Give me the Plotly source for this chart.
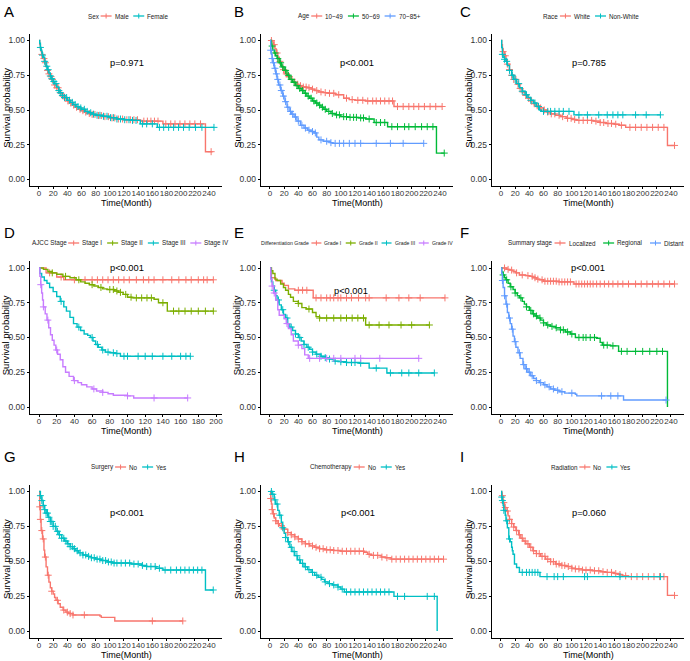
import numpy as np
import plotly.graph_objects as go

W, H = 690, 661
FONT = "Liberation Sans, Arial, sans-serif"

RED = "#F8766D"
CYAN = "#00BFC4"
GREEN = "#00BA38"
BLUE = "#619CFF"
OLIVE = "#7CAE00"
PURPLE = "#C77CFF"

# ---------------- data ----------------
# A: Sex
male_t = [0, 1, 2, 3, 4, 5, 6, 8, 10, 12, 14, 16, 18, 20, 22, 25, 28, 30, 33, 36, 40, 44, 48, 52, 56, 60, 65, 70, 75, 80, 90, 100, 110, 120, 140, 145, 175, 235, 245]
male_s = [1.0, 0.97, 0.94, 0.92, 0.90, 0.885, 0.87, 0.84, 0.81, 0.785, 0.76, 0.74, 0.72, 0.70, 0.68, 0.66, 0.635, 0.62, 0.60, 0.585, 0.565, 0.55, 0.535, 0.52, 0.505, 0.495, 0.485, 0.475, 0.468, 0.46, 0.452, 0.443, 0.435, 0.43, 0.425, 0.42, 0.40, 0.20, 0.20]
male_c = [4, 7, 9, 12, 14, 17, 19, 22, 25, 27, 31, 34, 37, 41, 45, 49, 53, 58, 62, 66, 71, 75, 79, 84, 88, 93, 98, 103, 107, 112, 118, 124, 129, 134, 139, 148, 153, 158, 163, 168, 179, 186, 192, 199, 206, 213, 220, 228, 243]
female_t = [0, 1, 2, 3, 4, 5, 6, 8, 10, 12, 14, 16, 18, 20, 22, 25, 28, 30, 33, 36, 40, 44, 48, 52, 56, 60, 65, 70, 75, 80, 90, 100, 110, 120, 132, 143, 167, 247]
female_s = [1.0, 0.98, 0.95, 0.93, 0.91, 0.895, 0.88, 0.85, 0.815, 0.79, 0.765, 0.745, 0.725, 0.705, 0.69, 0.665, 0.64, 0.625, 0.605, 0.59, 0.57, 0.555, 0.54, 0.525, 0.515, 0.505, 0.49, 0.48, 0.47, 0.462, 0.455, 0.445, 0.435, 0.43, 0.425, 0.40, 0.375, 0.375]
female_c = [2, 5, 8, 11, 13, 16, 18, 21, 24, 28, 30, 33, 36, 39, 43, 47, 51, 55, 59, 64, 68, 73, 77, 82, 86, 91, 96, 101, 105, 110, 115, 121, 127, 132, 137, 146, 152, 160, 170, 176, 183, 190, 197, 204, 212, 221, 230, 247]

# B: Age
age1_t = [0, 3, 5, 7, 9, 11, 13, 15, 18, 21, 24, 28, 32, 36, 40, 45, 52, 58, 63, 68, 75, 82, 92, 104, 112, 120, 135, 175, 243]
age1_s = [1.0, 0.99, 0.97, 0.94, 0.91, 0.88, 0.85, 0.82, 0.79, 0.76, 0.74, 0.72, 0.70, 0.685, 0.675, 0.665, 0.66, 0.65, 0.64, 0.63, 0.625, 0.62, 0.61, 0.585, 0.575, 0.57, 0.565, 0.525, 0.525]
age1_c = [2, 6, 10, 14, 19, 23, 27, 31, 35, 39, 43, 47, 51, 55, 60, 66, 72, 78, 84, 90, 97, 108, 116, 124, 131, 138, 145, 150, 156, 162, 168, 173, 180, 188, 196, 203, 210, 218, 226, 234, 243]
age2_t = [0, 2, 4, 6, 8, 10, 13, 16, 20, 24, 28, 32, 36, 40, 44, 48, 52, 56, 60, 64, 68, 72, 76, 80, 86, 92, 100, 110, 125, 135, 147, 166, 235, 246]
age2_s = [1.0, 0.96, 0.93, 0.91, 0.89, 0.87, 0.84, 0.81, 0.785, 0.75, 0.72, 0.70, 0.675, 0.655, 0.64, 0.62, 0.60, 0.585, 0.565, 0.55, 0.535, 0.52, 0.505, 0.49, 0.475, 0.465, 0.452, 0.447, 0.443, 0.435, 0.41, 0.38, 0.19, 0.19]
age2_c = [3, 7, 11, 15, 18, 22, 26, 30, 34, 38, 42, 46, 50, 54, 58, 62, 66, 70, 74, 78, 83, 88, 94, 98, 104, 108, 113, 118, 122, 128, 132, 140, 150, 156, 162, 172, 180, 190, 196, 205, 214, 222, 230, 246]
age3_t = [0, 1, 2, 3, 4, 6, 8, 10, 12, 15, 18, 21, 24, 27, 30, 34, 38, 43, 48, 53, 58, 62, 66, 69, 75, 85, 88, 217]
age3_s = [1.0, 0.93, 0.90, 0.87, 0.84, 0.80, 0.76, 0.72, 0.68, 0.64, 0.60, 0.56, 0.52, 0.49, 0.47, 0.45, 0.42, 0.39, 0.37, 0.355, 0.345, 0.335, 0.305, 0.285, 0.275, 0.265, 0.26, 0.26]
age3_c = [1, 3, 5, 7, 9, 11, 14, 16, 19, 22, 25, 29, 32, 36, 40, 45, 50, 55, 60, 64, 72, 80, 86, 92, 98, 104, 112, 120, 128, 150, 170, 188, 217]

# C: Race
white_t = [0, 1, 2, 3, 5, 7, 9, 12, 15, 18, 22, 26, 30, 34, 38, 42, 46, 50, 55, 60, 65, 70, 77, 84, 92, 100, 106, 130, 140, 148, 160, 167, 176, 235, 245]
white_s = [1.0, 0.97, 0.94, 0.92, 0.89, 0.86, 0.83, 0.79, 0.75, 0.72, 0.685, 0.655, 0.63, 0.605, 0.585, 0.565, 0.545, 0.53, 0.515, 0.50, 0.485, 0.472, 0.462, 0.452, 0.44, 0.432, 0.425, 0.42, 0.41, 0.403, 0.398, 0.39, 0.375, 0.245, 0.245]
white_c = [3, 6, 9, 12, 15, 18, 21, 24, 27, 31, 35, 39, 43, 47, 51, 56, 61, 66, 71, 76, 82, 87, 94, 99, 104, 110, 116, 122, 128, 134, 140, 145, 151, 156, 162, 170, 182, 190, 198, 206, 214, 222, 230, 245]
nonwhite_t = [0, 1, 2, 3, 5, 7, 9, 12, 15, 18, 22, 26, 30, 34, 38, 42, 46, 50, 54, 57, 103, 225]
nonwhite_s = [1.0, 0.95, 0.90, 0.88, 0.865, 0.85, 0.82, 0.785, 0.75, 0.72, 0.69, 0.66, 0.635, 0.61, 0.59, 0.57, 0.55, 0.525, 0.50, 0.49, 0.465, 0.465]
nonwhite_c = [2, 5, 8, 12, 16, 20, 25, 30, 36, 42, 48, 53, 60, 66, 70, 76, 82, 88, 96, 110, 122, 138, 150, 158, 165, 172, 190, 205, 225]

# D: AJCC Stage
st1_t = [0, 8, 20, 28, 197]
st1_s = [1.0, 0.965, 0.935, 0.915, 0.915]
st1_c = [12, 25, 40, 52, 60, 66, 72, 78, 84, 90, 96, 102, 110, 118, 124, 130, 140, 150, 158, 166, 172, 180, 186, 190, 197]
st2_t = [0, 5, 10, 15, 20, 27, 35, 42, 47, 52, 57, 62, 67, 72, 77, 85, 90, 95, 100, 105, 130, 135, 145, 197]
st2_s = [1.0, 0.99, 0.975, 0.965, 0.955, 0.94, 0.93, 0.915, 0.90, 0.89, 0.88, 0.87, 0.86, 0.85, 0.845, 0.835, 0.825, 0.81, 0.79, 0.785, 0.775, 0.75, 0.69, 0.69]
st2_c = [15, 30, 45, 60, 70, 80, 84, 88, 92, 98, 104, 110, 116, 122, 127, 140, 152, 158, 165, 172, 180, 188, 197]
st3_t = [0, 1, 3, 6, 9, 12, 16, 20, 24, 28, 31, 35, 39, 43, 47, 51, 55, 58, 61, 64, 67, 71, 75, 80, 86, 92, 171]
st3_s = [1.0, 0.96, 0.935, 0.91, 0.89, 0.86, 0.83, 0.795, 0.76, 0.72, 0.69, 0.645, 0.60, 0.575, 0.55, 0.525, 0.515, 0.50, 0.475, 0.45, 0.43, 0.41, 0.395, 0.39, 0.385, 0.365, 0.365]
st3_c = [25, 45, 60, 66, 72, 78, 84, 88, 96, 100, 112, 120, 128, 140, 150, 160, 166, 171]
st4_t = [0, 1, 2, 3, 4, 5, 7, 9, 11, 13, 15, 17, 19, 21, 24, 27, 30, 34, 39, 44, 48, 54, 60, 65, 72, 78, 84, 100, 107, 168]
st4_s = [1.0, 0.94, 0.88, 0.82, 0.77, 0.72, 0.67, 0.625, 0.57, 0.52, 0.48, 0.445, 0.41, 0.38, 0.34, 0.29, 0.25, 0.22, 0.19, 0.175, 0.16, 0.145, 0.13, 0.115, 0.105, 0.095, 0.085, 0.08, 0.065, 0.065]
st4_c = [2, 5, 10, 20, 40, 62, 72, 100, 130, 168]

# E: Differentiation Grade
gr1_t = [0, 2, 8, 17, 20, 26, 35, 61, 247]
gr1_s = [1.0, 0.93, 0.91, 0.89, 0.875, 0.85, 0.84, 0.785, 0.785]
gr1_c = [40, 46, 52, 65, 72, 80, 85, 90, 96, 100, 108, 115, 125, 135, 140, 164, 182, 196, 212, 247]
gr2_t = [0, 2, 4, 7, 10, 15, 19, 22, 26, 29, 33, 40, 45, 51, 60, 65, 70, 135, 225]
gr2_s = [1.0, 0.98, 0.96, 0.92, 0.91, 0.885, 0.86, 0.84, 0.81, 0.79, 0.76, 0.745, 0.715, 0.705, 0.68, 0.65, 0.64, 0.59, 0.59]
gr2_c = [40, 55, 70, 80, 90, 100, 108, 116, 124, 132, 140, 154, 168, 185, 200, 225]
gr3_t = [0, 1, 2, 4, 6, 8, 10, 13, 16, 19, 22, 25, 28, 32, 36, 40, 44, 48, 52, 56, 60, 65, 72, 78, 84, 90, 100, 108, 126, 140, 165, 232]
gr3_s = [1.0, 0.93, 0.90, 0.87, 0.84, 0.80, 0.77, 0.735, 0.70, 0.665, 0.64, 0.60, 0.575, 0.55, 0.525, 0.50, 0.475, 0.45, 0.43, 0.415, 0.395, 0.38, 0.365, 0.355, 0.345, 0.33, 0.325, 0.32, 0.315, 0.28, 0.245, 0.245]
gr3_c = [6, 12, 18, 24, 30, 36, 42, 48, 54, 60, 66, 72, 78, 84, 92, 100, 108, 115, 120, 128, 150, 170, 186, 196, 210, 232]
gr4_t = [0, 1, 3, 5, 8, 11, 13, 20, 23, 26, 30, 33, 40, 45, 49, 54, 210]
gr4_s = [1.0, 0.92, 0.87, 0.82, 0.77, 0.70, 0.66, 0.635, 0.60, 0.565, 0.52, 0.475, 0.445, 0.42, 0.375, 0.35, 0.35]
gr4_c = [3, 6, 24, 40, 56, 70, 80, 90, 100, 120, 128, 155, 210]

# F: Summary stage
loc_t = [0, 8, 12, 17, 21, 26, 35, 40, 45, 50, 54, 60, 82, 103, 245]
loc_s = [1.0, 0.99, 0.985, 0.975, 0.965, 0.95, 0.945, 0.94, 0.93, 0.92, 0.915, 0.905, 0.90, 0.885, 0.885]
loc_c = [5, 10, 15, 22, 30, 38, 44, 48, 52, 58, 62, 66, 70, 74, 78, 82, 86, 90, 94, 98, 106, 110, 114, 118, 122, 126, 130, 135, 140, 146, 152, 158, 165, 172, 180, 190, 198, 206, 214, 222, 230, 238, 245]
reg_t = [0, 1, 3, 5, 7, 10, 13, 17, 20, 23, 26, 30, 33, 36, 40, 44, 48, 52, 56, 60, 64, 70, 77, 84, 91, 98, 105, 135, 140, 143, 155, 166, 235]
reg_s = [1.0, 0.97, 0.95, 0.93, 0.915, 0.89, 0.865, 0.845, 0.82, 0.80, 0.785, 0.76, 0.74, 0.72, 0.695, 0.67, 0.655, 0.64, 0.625, 0.605, 0.59, 0.58, 0.57, 0.555, 0.54, 0.525, 0.50, 0.495, 0.465, 0.445, 0.44, 0.40, 0.0]
reg_c = [3, 8, 14, 20, 28, 36, 42, 46, 50, 55, 60, 66, 72, 78, 84, 88, 94, 100, 110, 116, 120, 126, 132, 145, 150, 158, 170, 178, 190, 200, 210, 220, 228]
dist_t = [0, 1, 2, 3, 5, 7, 9, 11, 13, 15, 17, 19, 21, 24, 27, 31, 34, 38, 42, 46, 50, 54, 60, 65, 70, 76, 82, 90, 105, 107, 173, 234]
dist_s = [1.0, 0.96, 0.91, 0.86, 0.80, 0.74, 0.68, 0.64, 0.60, 0.56, 0.51, 0.47, 0.43, 0.39, 0.35, 0.305, 0.275, 0.25, 0.225, 0.205, 0.19, 0.175, 0.16, 0.145, 0.13, 0.12, 0.11, 0.10, 0.092, 0.08, 0.05, 0.05]
dist_c = [2, 5, 8, 12, 16, 20, 26, 32, 36, 40, 44, 50, 56, 62, 68, 74, 80, 86, 100, 142, 155, 165, 233]

# G: Surgery
surgno_t = [0, 1, 2, 3, 5, 7, 8, 10, 12, 14, 16, 18, 20, 22, 24, 27, 30, 34, 38, 42, 48, 86, 88, 107, 203]
surgno_s = [1.0, 0.89, 0.80, 0.72, 0.66, 0.58, 0.53, 0.46, 0.40, 0.35, 0.31, 0.285, 0.265, 0.24, 0.22, 0.195, 0.17, 0.15, 0.135, 0.125, 0.115, 0.108, 0.098, 0.072, 0.072]
surgno_c = [1, 2, 4, 6, 9, 13, 18, 26, 35, 40, 44, 48, 64, 160, 203]
surgyes_t = [0, 2, 4, 6, 8, 10, 13, 16, 20, 24, 28, 32, 36, 40, 44, 48, 52, 56, 62, 68, 74, 80, 88, 96, 104, 130, 145, 152, 165, 175, 235, 246]
surgyes_s = [1.0, 0.97, 0.935, 0.90, 0.87, 0.845, 0.815, 0.785, 0.75, 0.715, 0.69, 0.665, 0.645, 0.625, 0.605, 0.59, 0.575, 0.56, 0.545, 0.535, 0.525, 0.515, 0.505, 0.495, 0.487, 0.48, 0.47, 0.462, 0.45, 0.437, 0.294, 0.294]
surgyes_c = [2, 4, 6, 8, 10, 12, 14, 16, 18, 20, 23, 26, 29, 32, 35, 38, 41, 44, 47, 50, 54, 58, 62, 66, 70, 74, 78, 82, 86, 90, 94, 98, 102, 106, 110, 116, 122, 128, 134, 140, 146, 152, 158, 164, 170, 178, 186, 194, 200, 206, 212, 218, 224, 230, 246]

# H: Chemotherapy
chemono_t = [0, 1, 2, 3, 4, 6, 8, 10, 13, 17, 20, 25, 30, 35, 40, 45, 50, 56, 63, 70, 77, 90, 100, 133, 138, 143, 157, 163, 171, 245]
chemono_s = [1.0, 0.95, 0.91, 0.87, 0.84, 0.81, 0.79, 0.77, 0.755, 0.74, 0.73, 0.705, 0.69, 0.675, 0.66, 0.64, 0.625, 0.61, 0.60, 0.59, 0.582, 0.577, 0.572, 0.565, 0.55, 0.542, 0.53, 0.525, 0.515, 0.515]
chemono_c = [1, 3, 5, 8, 12, 16, 20, 25, 30, 35, 40, 45, 50, 55, 60, 65, 70, 75, 80, 85, 90, 96, 102, 108, 114, 120, 126, 132, 140, 146, 152, 158, 165, 172, 178, 184, 190, 196, 202, 208, 214, 220, 226, 232, 238, 245]
chemoyes_t = [0, 3, 6, 8, 11, 13, 16, 18, 20, 22, 25, 28, 31, 35, 39, 43, 48, 53, 58, 63, 68, 73, 77, 82, 88, 96, 100, 105, 175, 236]
chemoyes_s = [1.0, 0.98, 0.94, 0.91, 0.865, 0.83, 0.78, 0.74, 0.70, 0.67, 0.64, 0.60, 0.57, 0.54, 0.51, 0.485, 0.46, 0.44, 0.42, 0.40, 0.385, 0.37, 0.352, 0.34, 0.33, 0.315, 0.30, 0.28, 0.248, 0.0]
chemoyes_c = [2, 4, 7, 10, 14, 18, 22, 26, 30, 34, 38, 42, 46, 50, 55, 60, 66, 72, 78, 84, 90, 96, 102, 108, 114, 120, 126, 132, 138, 144, 150, 156, 162, 168, 180, 190, 222, 232]

# I: Radiation
radno_t = [0, 1, 3, 5, 7, 10, 12, 15, 18, 21, 25, 28, 31, 35, 40, 45, 50, 56, 63, 70, 77, 85, 92, 100, 105, 115, 129, 140, 148, 160, 166, 171, 180, 235, 245]
radno_s = [1.0, 0.97, 0.92, 0.885, 0.86, 0.825, 0.80, 0.77, 0.745, 0.72, 0.69, 0.665, 0.645, 0.625, 0.60, 0.575, 0.555, 0.535, 0.515, 0.497, 0.48, 0.47, 0.462, 0.45, 0.445, 0.437, 0.432, 0.425, 0.42, 0.412, 0.405, 0.395, 0.39, 0.255, 0.255]
radno_c = [2, 4, 6, 9, 12, 15, 18, 22, 26, 30, 34, 38, 42, 46, 50, 54, 58, 62, 66, 70, 74, 78, 82, 86, 90, 95, 100, 105, 110, 115, 120, 126, 132, 138, 144, 150, 156, 162, 168, 176, 184, 192, 200, 208, 216, 224, 230, 245]
radyes_t = [0, 1, 2, 3, 4, 6, 7, 9, 11, 13, 15, 16, 17, 19, 22, 26, 55, 225]
radyes_s = [1.0, 0.96, 0.935, 0.90, 0.865, 0.83, 0.79, 0.74, 0.66, 0.64, 0.60, 0.575, 0.55, 0.48, 0.455, 0.42, 0.39, 0.39]
radyes_c = [1, 2, 4, 8, 12, 30, 36, 40, 44, 48, 52, 65, 75, 80, 88, 118, 122, 168, 225]

panels = [
    dict(letter="A", title="Sex", pval="p=0.971", pxy=(124, 0.84), lc=127,
         groups=[("Male", RED, male_t, male_s, male_c), ("Female", CYAN, female_t, female_s, female_c)]),
    dict(letter="B", title="Age", pval="p<0.001", pxy=(123, 0.84), lc=358,
         groups=[("10~49", RED, age1_t, age1_s, age1_c), ("50~69", GREEN, age2_t, age2_s, age2_c),
                 ("70~85+", BLUE, age3_t, age3_s, age3_c)]),
    dict(letter="C", title="Race", pval="p=0.785", pxy=(124, 0.84), lc=590,
         groups=[("White", RED, white_t, white_s, white_c), ("Non-White", CYAN, nonwhite_t, nonwhite_s, nonwhite_c)]),
    dict(letter="D", title="AJCC Stage", pval="p<0.001", pxy=(99, 1.0), lc=129, xmax=200,
         groups=[("Stage I", RED, st1_t, st1_s, st1_c), ("Stage II", OLIVE, st2_t, st2_s, st2_c),
                 ("Stage III", CYAN, st3_t, st3_s, st3_c), ("Stage IV", PURPLE, st4_t, st4_s, st4_c)]),
    dict(letter="E", title="Differentiation Grade", pval="p<0.001", pxy=(115, 0.835), lc=356, lfs=5.2, key=10, gap=5,
         groups=[("Grade I", RED, gr1_t, gr1_s, gr1_c), ("Grade II", OLIVE, gr2_t, gr2_s, gr2_c),
                 ("Grade III", CYAN, gr3_t, gr3_s, gr3_c), ("Grade IV", PURPLE, gr4_t, gr4_s, gr4_c)]),
    dict(letter="F", title="Summary stage", pval="p<0.001", pxy=(123, 1.0), lc=595, gap=9,
         groups=[("Localized", RED, loc_t, loc_s, loc_c), ("Regional", GREEN, reg_t, reg_s, reg_c),
                 ("Distant", BLUE, dist_t, dist_s, dist_c)]),
    dict(letter="G", title="Surgery", pval="p<0.001", pxy=(124, 0.846), lc=128,
         groups=[("No", RED, surgno_t, surgno_s, surgno_c), ("Yes", CYAN, surgyes_t, surgyes_s, surgyes_c)]),
    dict(letter="H", title="Chemotherapy", pval="p<0.001", pxy=(124, 0.846), lc=357,
         groups=[("No", RED, chemono_t, chemono_s, chemono_c), ("Yes", CYAN, chemoyes_t, chemoyes_s, chemoyes_c)]),
    dict(letter="I", title="Radiation", pval="p=0.060", pxy=(124, 0.846), lc=590,
         groups=[("No", RED, radno_t, radno_s, radno_c), ("Yes", CYAN, radyes_t, radyes_s, radyes_c)]),
]

# ---------------- layout geometry (pixels) ----------------
col_zero = [39, 270, 501]                          # pixel of t=0 in each column
row_y = [(40.5, 179.5), (268, 407), (491.5, 631)]  # pixel of 1.00 and 0.00
legend_y = [16, 243, 467]
letter_y = [1, 222, 446]
letter_x = [2, 232, 458]


def px(p):
    return p / W


def py(p):
    return 1 - p / H


CHAR_W = {"i": 222, "l": 222, "j": 222, "I": 278, " ": 278, "t": 278, "f": 278, "r": 333,
          "-": 333, "~": 584, "+": 584, "m": 833, "w": 722, "c": 500, "k": 500, "s": 500,
          "v": 500, "x": 500, "y": 500, "z": 500, "A": 667, "C": 722, "D": 722, "G": 778,
          "J": 500, "N": 722, "R": 722, "S": 667, "W": 944, "Y": 667, "M": 833, "L": 556,
          "F": 611, "T": 611, "V": 667, "E": 667, "H": 722}


def text_w(s, fs):
    return sum(CHAR_W.get(ch, 556) for ch in s) * fs / 1000.0


def step_at(times, surv, t):
    idx = np.searchsorted(np.asarray(times), t, side="right") - 1
    return np.asarray(surv)[np.clip(idx, 0, len(surv) - 1)]


fig = go.Figure()
shapes = []
annotations = []

for i, p in enumerate(panels):
    r, c = divmod(i, 3)
    n = i + 1
    xa = "x" if n == 1 else f"x{n}"
    ya = "y" if n == 1 else f"y{n}"
    xmax = p.get("xmax", 240)
    if xmax == 240:
        scale = 170 / 240
        xr = [-12.3, 258.3]
    else:
        scale = 177 / 200
        xr = [-9.85, 206.85]
    z = col_zero[c]
    left, right = z + xr[0] * scale, z + xr[1] * scale
    y1, y0 = row_y[r]
    ys = (y0 - y1)
    top, bottom = y1 - 0.05 * ys, y0 + 0.05 * ys

    fig.layout[f"xaxis{'' if n == 1 else n}"] = dict(
        domain=[px(left), px(right)], range=xr, anchor=ya, tickmode="linear", tick0=0, dtick=20,
        showline=True, linecolor="black", linewidth=1, ticks="outside", ticklen=2, tickcolor="black",
        ticklabelstandoff=-3, showgrid=False, zeroline=False, tickangle=0, fixedrange=True,
        tickfont=dict(family=FONT, size=8, color="#333333"))
    fig.layout[f"yaxis{'' if n == 1 else n}"] = dict(
        domain=[py(bottom), py(top)], range=[-0.05, 1.05], anchor=xa, tickmode="array",
        tickvals=[0, 0.25, 0.5, 0.75, 1.0], ticktext=["0.00", "0.25", "0.50", "0.75", "1.00"],
        showline=True, linecolor="black", linewidth=1, ticks="outside", ticklen=2.5, tickcolor="black",
        showgrid=False, zeroline=False, fixedrange=True,
        tickfont=dict(family=FONT, size=8.5, color="#333333"))

    for name, col, t, s, cens in p["groups"]:
        fig.add_trace(go.Scatter(x=t, y=s, mode="lines", line=dict(color=col, width=1.4, shape="hv"),
                                 xaxis=xa, yaxis=ya, showlegend=False, hoverinfo="skip"))
        fig.add_trace(go.Scatter(x=cens, y=step_at(t, s, cens), mode="markers",
                                 marker=dict(symbol="cross-thin", size=5, line=dict(color=col, width=1)),
                                 xaxis=xa, yaxis=ya, showlegend=False, hoverinfo="skip"))

    # p-value
    annotations.append(dict(x=p["pxy"][0], y=p["pxy"][1], xref=xa, yref=ya, text=p["pval"],
                            showarrow=False, font=dict(family=FONT, size=9.3, color="black")))
    # panel letter
    annotations.append(dict(x=px(letter_x[c]), y=py(letter_y[r]), xref="paper", yref="paper",
                            text=p["letter"], showarrow=False, xanchor="left", yanchor="top",
                            font=dict(family=FONT, size=15, color="black")))
    # axis titles
    annotations.append(dict(x=px((left + right) / 2), y=py(bottom + 17), xref="paper", yref="paper",
                            text="Time(Month)", showarrow=False, xanchor="center", yanchor="middle",
                            borderpad=0, font=dict(family=FONT, size=9, color="black")))
    annotations.append(dict(x=px(left - 24.5), y=py((top + bottom) / 2 - 2), xref="paper", yref="paper",
                            text="Survival probability", showarrow=False, textangle=-90,
                            xanchor="center", yanchor="middle", borderpad=0,
                            font=dict(family=FONT, size=9.5, color="black")))

    # legend (drawn by hand so the keys stay as short as in the reference)
    lfs = p.get("lfs", 6.3)
    key = p.get("key", 11)
    gap = p.get("gap", 6)
    labels = [g[0] for g in p["groups"]]
    total = text_w(p["title"], lfs) + 3 + sum(key + 2 + text_w(lb, lfs) for lb in labels) + gap * (len(labels) - 1)
    xcur = p["lc"] - total / 2
    ly = legend_y[r]
    annotations.append(dict(x=px(xcur), y=py(ly), xref="paper", yref="paper", text=p["title"],
                            showarrow=False, xanchor="left", yanchor="middle", borderpad=0,
                            font=dict(family=FONT, size=lfs, color="#222222")))
    xcur += text_w(p["title"], lfs) + 3
    for name, col, *_ in p["groups"]:
        shapes.append(dict(type="line", xref="paper", yref="paper", x0=px(xcur), x1=px(xcur + key),
                           y0=py(ly), y1=py(ly), line=dict(color=col, width=1.3)))
        shapes.append(dict(type="line", xref="paper", yref="paper", x0=px(xcur + key / 2), x1=px(xcur + key / 2),
                           y0=py(ly - 2.5), y1=py(ly + 2.5), line=dict(color=col, width=1)))
        xcur += key + 2
        annotations.append(dict(x=px(xcur), y=py(ly), xref="paper", yref="paper", text=name,
                                showarrow=False, xanchor="left", yanchor="middle", borderpad=0,
                                font=dict(family=FONT, size=lfs, color="#222222")))
        xcur += text_w(name, lfs) + gap

fig.update_layout(width=W, height=H, margin=dict(l=0, r=0, t=0, b=0),
                  paper_bgcolor="white", plot_bgcolor="white", showlegend=False,
                  shapes=shapes, annotations=annotations, font=dict(family=FONT))

# the page's default 8px body margin would push the figure off the 690x661 window
fig.write_html("out.html", config={"displayModeBar": False},
               post_script="document.body.style.margin='0';")
